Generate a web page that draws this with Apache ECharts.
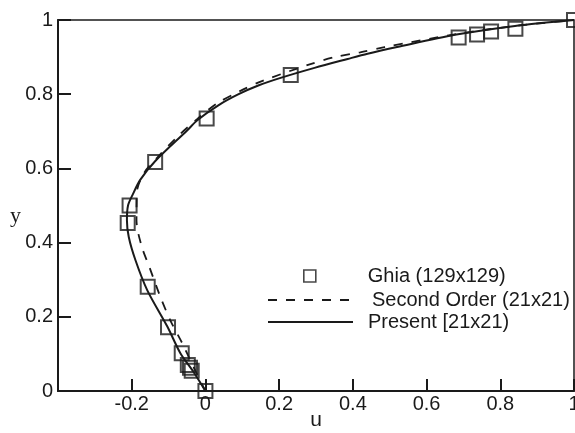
<!DOCTYPE html>
<html>
<head>
<meta charset="utf-8">
<script src="https://cdn.jsdelivr.net/npm/echarts@6/dist/echarts.min.js"></script>
<style>html,body{margin:0;padding:0;background:#fff}#c{width:575px;height:433px}</style>
</head>
<body>
<div id="c"></div>
<script>
// Ghia (129x129) reference points
const ghiaU = [1.0, 0.841, 0.775, 0.737, 0.687, 0.2315, 0.0033, -0.1364, -0.2058, -0.2109, -0.1566, -0.1015, -0.0643, -0.0478, -0.0419, -0.0372, 0.0];
const ghiaY = [1.0, 0.9766, 0.9688, 0.9609, 0.9531, 0.8516, 0.7344, 0.6172, 0.5, 0.4531, 0.2813, 0.1719, 0.1016, 0.0703, 0.0625, 0.0547, 0.0];
// Second Order (21x21) - dashed
const secondU = [0, -0.03, -0.063, -0.095, -0.122, -0.152, -0.173, -0.187, -0.186, -0.165, -0.13, -0.071, -0.02, 0.033, 0.095, 0.155, 0.285, 0.35, 0.42, 0.486, 0.7, 0.85, 1];
const secondY = [0, 0.06, 0.129, 0.19, 0.253, 0.334, 0.39, 0.46, 0.536, 0.59, 0.63, 0.69, 0.735, 0.776, 0.809, 0.836, 0.881, 0.9, 0.913, 0.927, 0.965, 0.985, 1];
// Present [21x21) - solid
const presentU = [0, -0.03, -0.068, -0.103, -0.158, -0.19, -0.208, -0.213, -0.21, -0.198, -0.177, -0.136, -0.049, -0.022, 0.035, 0.09, 0.145, 0.204, 0.296, 0.386, 0.44, 0.52, 0.677, 0.84, 1];
const presentY = [0, 0.048, 0.102, 0.173, 0.272, 0.353, 0.415, 0.46, 0.5, 0.528, 0.569, 0.62, 0.703, 0.73, 0.77, 0.8, 0.824, 0.844, 0.871, 0.895, 0.909, 0.927, 0.96, 0.984, 1];
const seriesNames = ['Ghia (129x129)', 'Second Order (21x21)', 'Present [21x21)'];

const zip = (a, b) => a.map((v, i) => [v, b[i]]);
const INK = '#1a1a1a';
const FONT = "'Liberation Sans', Arial, sans-serif";

const chart = echarts.init(document.getElementById('c'), null, {renderer: 'canvas'});
chart.setOption({
  animation: false,
  backgroundColor: '#fff',
  grid: {left: 58, right: 1, top: 20, bottom: 42, outerBoundsMode: 'none', containLabel: false,
         show: true, borderColor: INK, borderWidth: 1.5},
  xAxis: {
    type: 'value', min: -0.4, max: 1, interval: 0.2,
    name: 'u', nameLocation: 'middle', nameGap: 19, nameMoveOverlap: false,
    nameTextStyle: {fontFamily: FONT, fontSize: 21, color: INK, verticalAlign: 'top'},
    axisLine: {show: true, onZero: false, lineStyle: {color: INK, width: 2}},
    axisTick: {show: true, inside: true, length: 12, lineStyle: {color: INK, width: 2}},
    axisLabel: {showMinLabel: false, margin: 3, fontFamily: FONT, fontSize: 20, color: INK},
    splitLine: {show: false}
  },
  yAxis: {
    type: 'value', min: 0, max: 1, interval: 0.2,
    name: 'y', nameLocation: 'middle', nameGap: 37, nameRotate: 0, nameMoveOverlap: false,
    nameTextStyle: {fontFamily: "'Liberation Serif', 'Times New Roman', serif", fontSize: 22, color: INK, verticalAlign: 'top', align: 'right'},
    axisLine: {show: true, onZero: false, lineStyle: {color: INK, width: 2}},
    axisTick: {show: true, inside: true, length: 13, lineStyle: {color: INK, width: 2}},
    axisLabel: {margin: 5, fontFamily: FONT, fontSize: 20, color: INK},
    splitLine: {show: false}
  },
  legend: [
    {data: [seriesNames[0]], left: 303, top: 266, padding: 0, icon: 'rect', itemWidth: 12, itemHeight: 12,
     itemStyle: {color: 'rgba(0,0,0,0)', borderColor: INK, borderWidth: 1.6},
     textStyle: {fontFamily: FONT, fontSize: 20, color: INK, padding: [0, 0, 0, 47]}},
    {data: [seriesNames[1]], left: 267, top: 290, padding: 0, itemWidth: 85, itemHeight: 14,
     itemStyle: {opacity: 0},
     textStyle: {fontFamily: FONT, fontSize: 20, color: INK, padding: [0, 0, 0, 14]}},
    {data: [seriesNames[2]], left: 267, top: 312, padding: 0, itemWidth: 85, itemHeight: 14,
     itemStyle: {opacity: 0},
     textStyle: {fontFamily: FONT, fontSize: 20, color: INK, padding: [0, 0, 0, 10]}}
  ],
  series: [
    {name: seriesNames[0], type: 'scatter', data: zip(ghiaU, ghiaY), symbol: 'rect', symbolSize: 14,
     itemStyle: {color: 'rgba(0,0,0,0)', borderColor: INK, borderWidth: 2}, z: 3},
    {name: seriesNames[1], type: 'line', data: zip(secondU, secondY), smooth: 0.3, symbol: 'none', showSymbol: false,
     lineStyle: {color: INK, width: 1.8, type: [9, 9]}, itemStyle: {color: INK}},
    {name: seriesNames[2], type: 'line', data: zip(presentU, presentY), smooth: 0.3, symbol: 'none', showSymbol: false,
     lineStyle: {color: INK, width: 2}, itemStyle: {color: INK}}
  ]
});
</script>
</body>
</html>
